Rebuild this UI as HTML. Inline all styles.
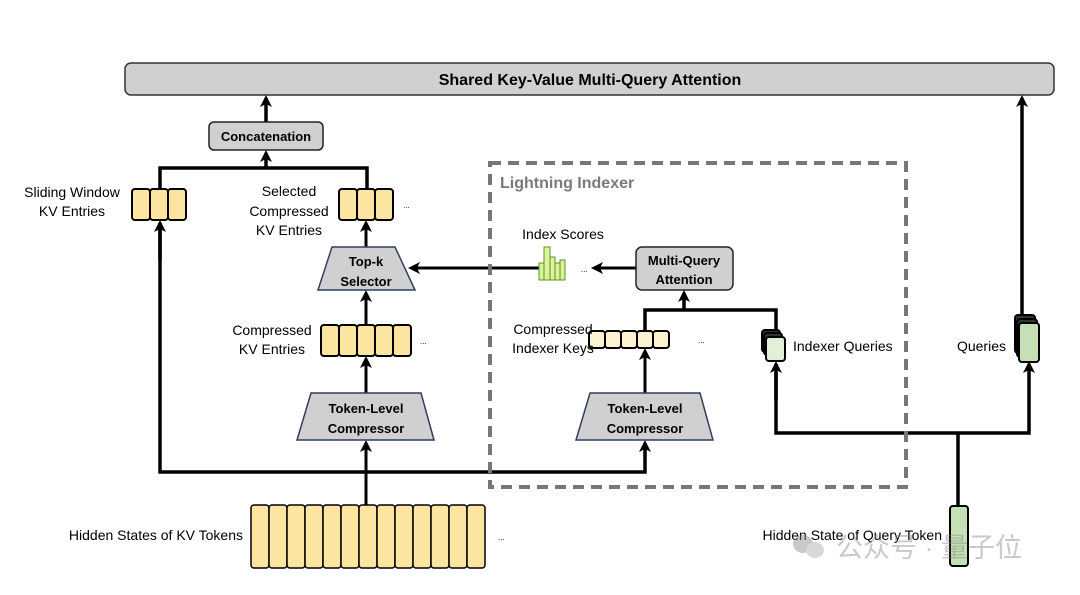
<!DOCTYPE html>
<html><head><meta charset="utf-8"><style>
body{margin:0;background:#fff}
svg text{font-family:"Liberation Sans","Noto Sans CJK SC",sans-serif}
.b{font-weight:bold;font-size:13px}
.t{font-size:14px}
</style></head><body>
<svg width="1080" height="590" viewBox="0 0 1080 590" xmlns="http://www.w3.org/2000/svg">
<defs>
<marker id="a" markerWidth="12" markerHeight="12" refX="9" refY="6" orient="auto" markerUnits="userSpaceOnUse"><path d="M0,0 L12,6 L0,12 L3,6 z" fill="#000"/></marker>
</defs>
<rect x="125" y="63" width="929" height="32" rx="6" fill="#d0d0d0" stroke="#333" stroke-width="1.5"/>
<text x="590" y="85" text-anchor="middle" font-weight="bold" font-size="16">Shared Key-Value Multi-Query Attention</text>

<g stroke="#000" stroke-width="3.5" fill="none">
<line x1="266" y1="122" x2="266" y2="98" marker-end="url(#a)"/>
<polyline points="160,189 160,168 367,168 367,189"/>
<line x1="266" y1="168" x2="266" y2="153" marker-end="url(#a)"/>
<line x1="366" y1="247" x2="366" y2="223" stroke-width="3" marker-end="url(#a)"/>
<line x1="366" y1="325" x2="366" y2="293" stroke-width="3" marker-end="url(#a)"/>
<line x1="366" y1="393" x2="366" y2="359" stroke-width="3" marker-end="url(#a)"/>
<line x1="366" y1="505" x2="366" y2="443" stroke-width="3" marker-end="url(#a)"/>
<polyline points="160,223 160,472 645,472 645,443" marker-end="url(#a)"/>
<line x1="160" y1="260" x2="160" y2="223" marker-end="url(#a)"/>
<line x1="540" y1="268" x2="411" y2="268" stroke-width="3" marker-end="url(#a)"/>
<line x1="636" y1="268" x2="594" y2="268" stroke-width="3" marker-end="url(#a)"/>
<polyline points="645,331 645,310 776,310 776,331"/>
<line x1="684" y1="310" x2="684" y2="293" marker-end="url(#a)"/>
<line x1="645" y1="393" x2="645" y2="351" stroke-width="3" marker-end="url(#a)"/>
<polyline points="776,364 776,433 1029,433 1029,364" marker-end="url(#a)"/>
<line x1="776" y1="400" x2="776" y2="364" marker-end="url(#a)"/>
<line x1="958" y1="506" x2="958" y2="433"/>
<line x1="1022" y1="315" x2="1022" y2="98" marker-end="url(#a)"/>
</g>

<rect x="490" y="163" width="416" height="324" fill="none" stroke="#777" stroke-width="4" stroke-dasharray="11 7"/>
<text x="500" y="188" font-weight="bold" font-size="16" fill="#7a7a7a">Lightning Indexer</text>

<rect x="209" y="122" width="114" height="28" rx="5" fill="#d0d0d0" stroke="#222" stroke-width="1.5"/>
<text x="266" y="141" text-anchor="middle" class="b">Concatenation</text>

<g fill="#fce5a0" stroke="#000" stroke-width="2">
<rect x="132" y="189" width="18" height="31" rx="3"/><rect x="150" y="189" width="18" height="31" rx="3"/><rect x="168" y="189" width="18" height="31" rx="3"/>
<rect x="339" y="189" width="18" height="31" rx="3"/><rect x="357" y="189" width="18" height="31" rx="3"/><rect x="375" y="189" width="18" height="31" rx="3"/>
<rect x="321" y="325" width="18" height="31" rx="3"/><rect x="339" y="325" width="18" height="31" rx="3"/><rect x="357" y="325" width="18" height="31" rx="3"/><rect x="375" y="325" width="18" height="31" rx="3"/><rect x="393" y="325" width="18" height="31" rx="3"/>
</g>
<g fill="#fce5a0" stroke="#000" stroke-width="1.5">
<rect x="251" y="505" width="18" height="63" rx="3"/><rect x="269" y="505" width="18" height="63" rx="3"/><rect x="287" y="505" width="18" height="63" rx="3"/><rect x="305" y="505" width="18" height="63" rx="3"/><rect x="323" y="505" width="18" height="63" rx="3"/><rect x="341" y="505" width="18" height="63" rx="3"/><rect x="359" y="505" width="18" height="63" rx="3"/><rect x="377" y="505" width="18" height="63" rx="3"/><rect x="395" y="505" width="18" height="63" rx="3"/><rect x="413" y="505" width="18" height="63" rx="3"/><rect x="431" y="505" width="18" height="63" rx="3"/><rect x="449" y="505" width="18" height="63" rx="3"/><rect x="467" y="505" width="18" height="63" rx="3"/>
</g>
<g fill="#fdf1cf" stroke="#000" stroke-width="2">
<rect x="589" y="331" width="16" height="17" rx="3"/><rect x="605" y="331" width="16" height="17" rx="3"/><rect x="621" y="331" width="16" height="17" rx="3"/><rect x="637" y="331" width="16" height="17" rx="3"/><rect x="653" y="331" width="16" height="17" rx="3"/>
</g>

<text x="72" y="197" text-anchor="middle" class="t">Sliding Window</text>
<text x="72" y="216" text-anchor="middle" class="t">KV Entries</text>
<text x="289" y="196" text-anchor="middle" class="t">Selected</text>
<text x="289" y="216" text-anchor="middle" class="t">Compressed</text>
<text x="289" y="235" text-anchor="middle" class="t">KV Entries</text>
<text x="272" y="335" text-anchor="middle" class="t">Compressed</text>
<text x="272" y="354" text-anchor="middle" class="t">KV Entries</text>
<text x="243" y="540" text-anchor="end" class="t">Hidden States of KV Tokens</text>
<text x="553" y="334" text-anchor="middle" class="t">Compressed</text>
<text x="553" y="353" text-anchor="middle" class="t">Indexer Keys</text>
<text x="563" y="239" text-anchor="middle" class="t">Index Scores</text>
<text x="793" y="351" class="t">Indexer Queries</text>
<text x="1006" y="351" text-anchor="end" class="t">Queries</text>
<text x="942" y="540" text-anchor="end" class="t">Hidden State of Query Token</text>
<g font-size="8"><text x="403" y="208">...</text><text x="420" y="344">...</text><text x="581" y="272">...</text><text x="698" y="343">...</text><text x="498" y="540">...</text></g>

<polygon points="332,247 395,247 415,290 318,290" fill="#d0d0d0" stroke="#2f3f5f" stroke-width="1.5"/>
<text x="366" y="266" text-anchor="middle" class="b">Top-k</text>
<text x="366" y="286" text-anchor="middle" class="b">Selector</text>
<polygon points="311,393 421,393 434,440 297,440" fill="#d0d0d0" stroke="#2f3f5f" stroke-width="1.5"/>
<text x="366" y="413" text-anchor="middle" class="b">Token-Level</text>
<text x="366" y="433" text-anchor="middle" class="b">Compressor</text>
<polygon points="590,393 700,393 713,440 576,440" fill="#d0d0d0" stroke="#2f3f5f" stroke-width="1.5"/>
<text x="645" y="413" text-anchor="middle" class="b">Token-Level</text>
<text x="645" y="433" text-anchor="middle" class="b">Compressor</text>

<rect x="636" y="247" width="97" height="43" rx="6" fill="#d0d0d0" stroke="#222" stroke-width="1.5"/>
<text x="684" y="265" text-anchor="middle" class="b">Multi-Query</text>
<text x="684" y="284" text-anchor="middle" class="b">Attention</text>

<g fill="#d9f59b" stroke="#6a8a2a" stroke-width="1">
<rect x="539" y="263" width="5" height="17"/><rect x="544" y="247" width="6" height="33"/><rect x="550" y="257" width="5" height="23"/><rect x="555" y="263" width="5" height="17"/><rect x="560" y="260" width="5" height="20"/>
</g>

<g stroke="#000" stroke-width="2" fill="#e2f0d9">
<rect x="762" y="330" width="18" height="22" rx="3" fill="#333"/>
<rect x="764" y="333" width="18" height="22" rx="3" fill="#333"/>
<rect x="766" y="337" width="19" height="24" rx="3"/>
<rect x="1015" y="315" width="20" height="38" rx="3" fill="#333"/>
<rect x="1017" y="319" width="20" height="38" rx="3" fill="#333"/>
<rect x="1019" y="323" width="20" height="39" rx="3" fill="#c5e0b4"/>
<rect x="950" y="506" width="18" height="60" rx="3" fill="#c5e0b4"/>
</g>

<g opacity="0.45" fill="#888">
<ellipse cx="803" cy="544" rx="10" ry="9"/><ellipse cx="815" cy="550" rx="9" ry="8" fill="#aaa"/>
<text x="836" y="557" font-size="27" font-family="'Noto Sans CJK SC',sans-serif">公众号 · 量子位</text>
</g>
</svg>
</body></html>
